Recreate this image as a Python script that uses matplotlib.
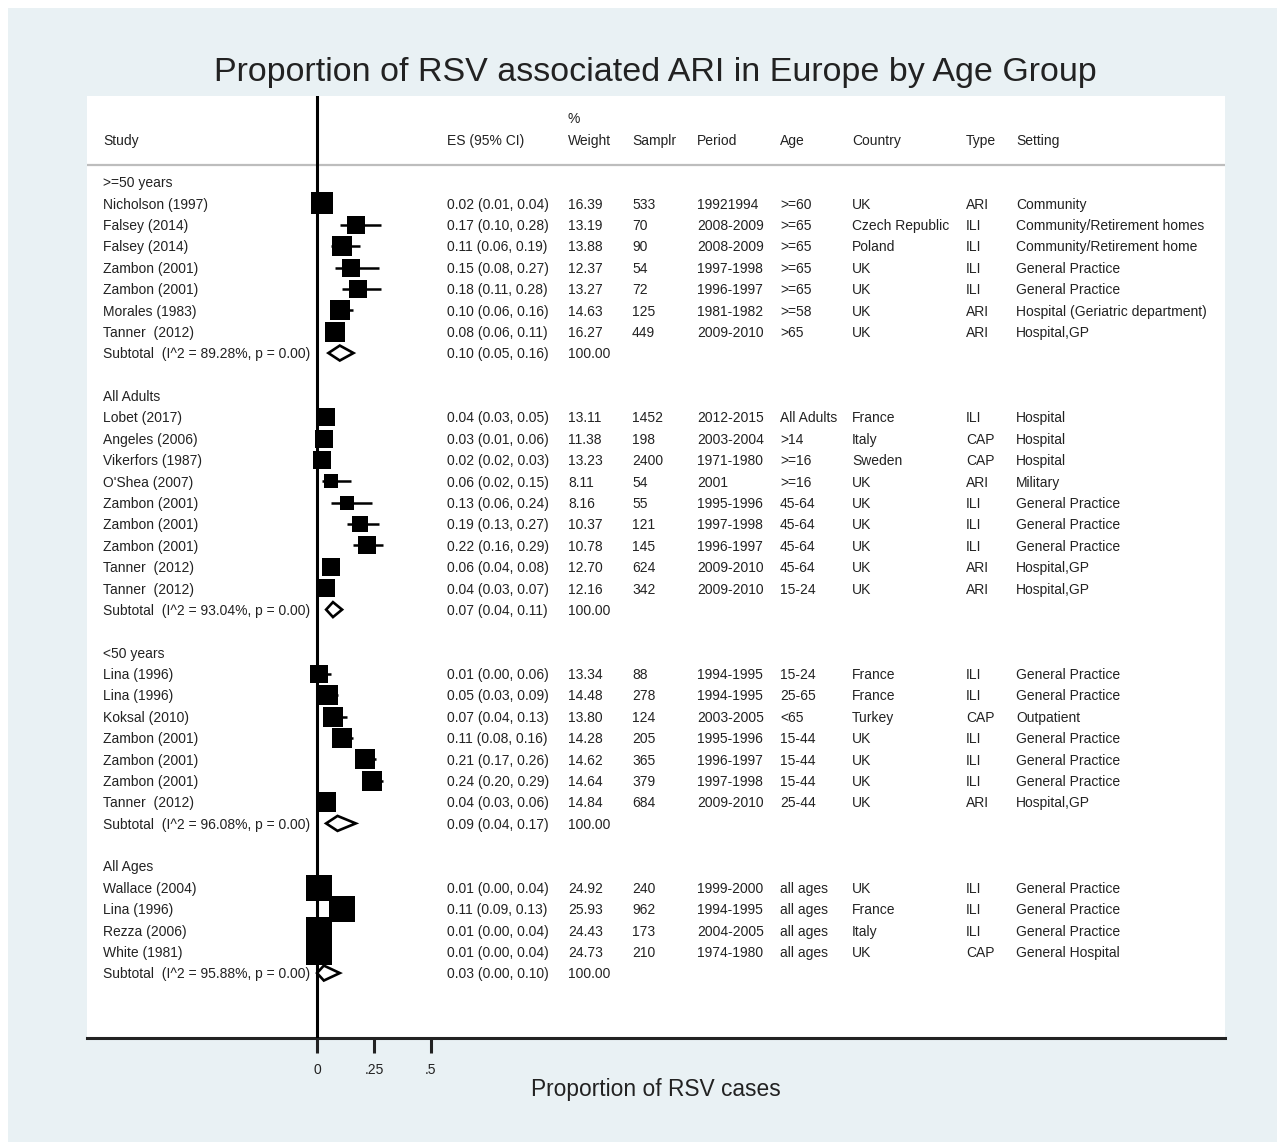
import matplotlib
matplotlib.use("Agg")
import matplotlib.pyplot as plt
import numpy as np
from matplotlib.patches import Polygon, Rectangle

plt.rcParams['font.family'] = ['Liberation Sans', 'DejaVu Sans']

# ---- data ----
groups = [">=50 years", "All Adults", "<50 years", "All Ages"]

studies = [
    ["Nicholson (1997)", "Falsey (2014)", "Falsey (2014)", "Zambon (2001)", "Zambon (2001)",
     "Morales (1983)", "Tanner  (2012)"],
    ["Lobet (2017)", "Angeles (2006)", "Vikerfors (1987)", "O'Shea (2007)", "Zambon (2001)",
     "Zambon (2001)", "Zambon (2001)", "Tanner  (2012)", "Tanner  (2012)"],
    ["Lina (1996)", "Lina (1996)", "Koksal (2010)", "Zambon (2001)", "Zambon (2001)",
     "Zambon (2001)", "Tanner  (2012)"],
    ["Wallace (2004)", "Lina (1996)", "Rezza (2006)", "White (1981)"],
]
es = [
    [0.02, 0.17, 0.11, 0.15, 0.18, 0.10, 0.08],
    [0.04, 0.03, 0.02, 0.06, 0.13, 0.19, 0.22, 0.06, 0.04],
    [0.01, 0.05, 0.07, 0.11, 0.21, 0.24, 0.04],
    [0.01, 0.11, 0.01, 0.01],
]
ci_lo = [
    [0.01, 0.10, 0.06, 0.08, 0.11, 0.06, 0.06],
    [0.03, 0.01, 0.02, 0.02, 0.06, 0.13, 0.16, 0.04, 0.03],
    [0.00, 0.03, 0.04, 0.08, 0.17, 0.20, 0.03],
    [0.00, 0.09, 0.00, 0.00],
]
ci_hi = [
    [0.04, 0.28, 0.19, 0.27, 0.28, 0.16, 0.11],
    [0.05, 0.06, 0.03, 0.15, 0.24, 0.27, 0.29, 0.08, 0.07],
    [0.06, 0.09, 0.13, 0.16, 0.26, 0.29, 0.06],
    [0.04, 0.13, 0.04, 0.04],
]
weights = [
    [16.39, 13.19, 13.88, 12.37, 13.27, 14.63, 16.27],
    [13.11, 11.38, 13.23, 8.11, 8.16, 10.37, 10.78, 12.70, 12.16],
    [13.34, 14.48, 13.80, 14.28, 14.62, 14.64, 14.84],
    [24.92, 25.93, 24.43, 24.73],
]
samples = [
    ["533", "70", "90", "54", "72", "125", "449"],
    ["1452", "198", "2400", "54", "55", "121", "145", "624", "342"],
    ["88", "278", "124", "205", "365", "379", "684"],
    ["240", "962", "173", "210"],
]
periods = [
    ["19921994", "2008-2009", "2008-2009", "1997-1998", "1996-1997", "1981-1982", "2009-2010"],
    ["2012-2015", "2003-2004", "1971-1980", "2001", "1995-1996", "1997-1998", "1996-1997",
     "2009-2010", "2009-2010"],
    ["1994-1995", "1994-1995", "2003-2005", "1995-1996", "1996-1997", "1997-1998", "2009-2010"],
    ["1999-2000", "1994-1995", "2004-2005", "1974-1980"],
]
ages = [
    [">=60", ">=65", ">=65", ">=65", ">=65", ">=58", ">65"],
    ["All Adults", ">14", ">=16", ">=16", "45-64", "45-64", "45-64", "45-64", "15-24"],
    ["15-24", "25-65", "<65", "15-44", "15-44", "15-44", "25-44"],
    ["all ages", "all ages", "all ages", "all ages"],
]
countries = [
    ["UK", "Czech Republic", "Poland", "UK", "UK", "UK", "UK"],
    ["France", "Italy", "Sweden", "UK", "UK", "UK", "UK", "UK", "UK"],
    ["France", "France", "Turkey", "UK", "UK", "UK", "UK"],
    ["UK", "France", "Italy", "UK"],
]
types = [
    ["ARI", "ILI", "ILI", "ILI", "ILI", "ARI", "ARI"],
    ["ILI", "CAP", "CAP", "ARI", "ILI", "ILI", "ILI", "ARI", "ARI"],
    ["ILI", "ILI", "CAP", "ILI", "ILI", "ILI", "ARI"],
    ["ILI", "ILI", "ILI", "CAP"],
]
settings = [
    ["Community", "Community/Retirement homes", "Community/Retirement home", "General Practice",
     "General Practice", "Hospital (Geriatric department)", "Hospital,GP"],
    ["Hospital", "Hospital", "Hospital", "Military", "General Practice", "General Practice",
     "General Practice", "Hospital,GP", "Hospital,GP"],
    ["General Practice", "General Practice", "Outpatient", "General Practice", "General Practice",
     "General Practice", "Hospital,GP"],
    ["General Practice", "General Practice", "General Practice", "General Hospital"],
]
sub_i2 = [89.28, 93.04, 96.08, 95.88]
sub_es = [0.10, 0.07, 0.09, 0.03]
sub_lo = [0.05, 0.04, 0.04, 0.00]
sub_hi = [0.16, 0.11, 0.17, 0.10]

headers = ["Study", "ES (95% CI)", "Weight", "Samplr", "Period", "Age", "Country", "Type", "Setting"]
xticks = [0, 0.25, 0.5]
xtick_labels = ["0", ".25", ".5"]

# ---- layout ----
W, H = 1277, 1142
PX_PER_UNIT = 228.0        # pixels per x unit
ROW_PX = 21.38             # pixels per row
X0_PX = 317                # pixel of x=0
col_px = [103, 447, 568, 632, 697, 780, 852, 966, 1016]
col_x = [(p - X0_PX) / PX_PER_UNIT for p in col_px]
txt = '#222222'
FS = 10
DY = 0.06                  # small nudge so text sits on the row like the original


def label(x, y, s):
    ax.text(x, y + DY, s, fontsize=FS, color=txt, va='center')


fig = plt.figure(figsize=(W / 100, H / 100), dpi=100, facecolor='white')
fig.patches.append(Rectangle((8 / W, 0), 1 - 8 / W, 1 - 8 / H, transform=fig.transFigure,
                             facecolor='#e9f1f4', edgecolor='none', zorder=-10))
ax = fig.add_axes([87 / W, 1 - 1038 / H, (1225 - 87) / W, (1038 - 96) / H])
ax.set_zorder(5)
ax.set_facecolor('white')
ax.set_xlim((87 - X0_PX) / PX_PER_UNIT, (1225 - X0_PX) / PX_PER_UNIT)
ax.set_ylim((1038 - 182) / ROW_PX, (96 - 182) / ROW_PX)

# header
label(col_x[2], -3, "%")
for x, h in zip(col_x, headers):
    label(x, -2, h)
ax.axhline(-0.8, color='#bdbdbd', lw=1.6)

row = 0
for g in range(len(groups)):
    label(col_x[0], row, groups[g])
    row += 1
    for i in range(len(studies[g])):
        side = 5.2 * np.sqrt(weights[g][i]) * 0.72  # points
        ax.scatter([es[g][i]], [row], marker='s', s=side ** 2, color='black', lw=0, zorder=3)
        ax.plot([ci_lo[g][i], ci_hi[g][i]], [row, row], color='black', lw=1.8, zorder=3,
                solid_capstyle='butt')
        vals = [studies[g][i],
                f"{es[g][i]:.2f} ({ci_lo[g][i]:.2f}, {ci_hi[g][i]:.2f})",
                f"{weights[g][i]:.2f}", samples[g][i], periods[g][i], ages[g][i],
                countries[g][i], types[g][i], settings[g][i]]
        for x, v in zip(col_x, vals):
            label(x, row, v)
        row += 1
    # subtotal diamond
    h = 0.35
    ax.add_patch(Polygon([(sub_lo[g], row), (sub_es[g], row - h), (sub_hi[g], row),
                          (sub_es[g], row + h)], closed=True, facecolor='white',
                         edgecolor='black', lw=1.9, zorder=4))
    label(col_x[0], row, f"Subtotal  (I^2 = {sub_i2[g]:.2f}%, p = 0.00)")
    label(col_x[1], row, f"{sub_es[g]:.2f} ({sub_lo[g]:.2f}, {sub_hi[g]:.2f})")
    label(col_x[2], row, "100.00")
    row += 2

ax.axvline(0, color='black', lw=2.2, zorder=5)

for s in ['top', 'left', 'right']:
    ax.spines[s].set_visible(False)
ax.spines['bottom'].set_linewidth(2.2)
ax.spines['bottom'].set_color('#222222')
ax.set_yticks([])
ax.set_xticks(xticks)
ax.set_xticklabels(xtick_labels, fontsize=10, color='#333333')
ax.tick_params(axis='x', direction='out', length=11, width=2.2, pad=7, colors='#222222')
ax.set_xlabel("Proportion of RSV cases", fontsize=16.4, color='#222222', labelpad=1)

fig.text(655 / W, 1 - 72 / H, "Proportion of RSV associated ARI in Europe by Age Group",
         fontsize=24.5, color='#222222', ha='center', va='center')

fig.savefig("out.png", dpi=100, facecolor=fig.get_facecolor())
